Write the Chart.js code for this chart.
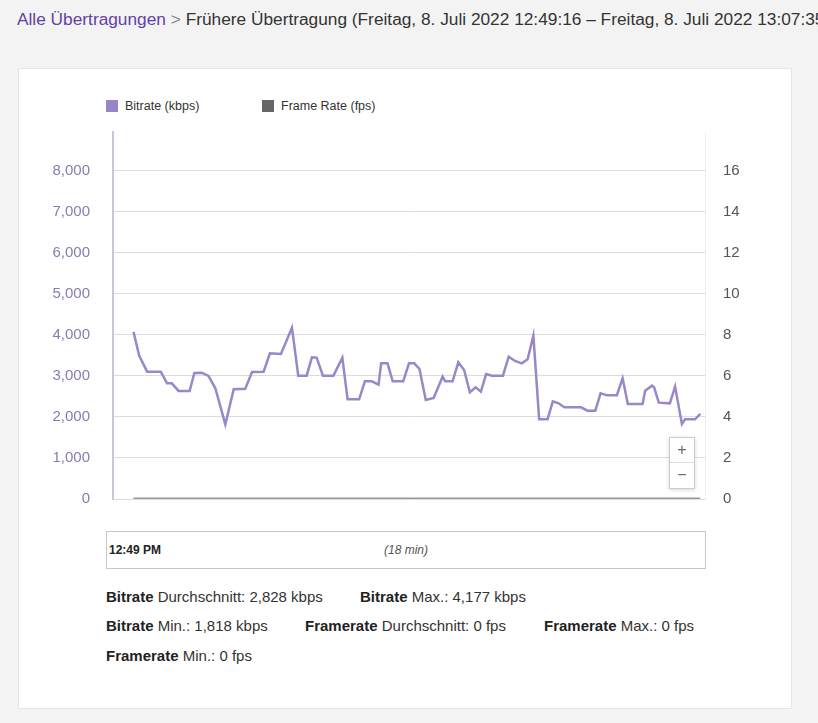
<!DOCTYPE html>
<html>
<head>
<meta charset="utf-8">
<script src="https://cdn.jsdelivr.net/npm/chart.js@4"></script>
<style>
  body { margin: 0; background: #f3f3f3; font-family: "Liberation Sans", Arial, sans-serif; width: 818px; height: 723px; overflow: hidden; position: relative; }
  .crumbs { position: absolute; left: 17px; top: 8px; width: 801px; white-space: nowrap; overflow: hidden; font-size: 17.3px; line-height: 22px; color: #333; }
  .crumbs a { color: #6441a5; text-decoration: none; }
  .crumbs .sep { color: #888; }
  .panel { position: absolute; left: 18px; top: 68px; width: 772px; height: 639px; background: #fff; border: 1px solid #e6e6e6; }
  .legend { position: absolute; top: 99px; font-size: 12.5px; color: #333; line-height: 14px; }
  .legend i { display: inline-block; width: 12px; height: 12px; vertical-align: -2px; margin-right: 7px; }
  #chartWrap { position: absolute; left: 40px; top: 123px; width: 720px; height: 385px; }
  .zoomctl { position: absolute; left: 669px; top: 437px; width: 24px; height: 50px; background: #fff; border: 1px solid #ccc; box-shadow: 0 1px 4px rgba(0,0,0,0.15); color: #666; font-size: 16px; text-align: center; }
  .zoomctl div { height: 24px; line-height: 24px; }
  .zoomctl div + div { border-top: 1px solid #ddd; }
  .range { position: absolute; left: 106px; top: 531px; width: 598px; height: 36px; border: 1px solid #c8c8c8; font-size: 12px; }
  .range b { position: absolute; left: 2px; top: 11px; color: #222; }
  .range em { position: absolute; left: 277px; top: 11px; color: #555; }
  .stat { position: absolute; font-size: 15px; color: #333; white-space: nowrap; line-height: 17px; }
  .stat b { color: #222; }
</style>
</head>
<body>
<div class="crumbs"><a>Alle Übertragungen</a> <span class="sep">&gt;</span> Frühere Übertragung (Freitag, 8. Juli 2022 12:49:16 – Freitag, 8. Juli 2022 13:07:35)</div>
<div class="panel"></div>
<div class="legend" style="left:106px"><i style="background:#9a85c8"></i>Bitrate (kbps)</div>
<div class="legend" style="left:262px"><i style="background:#666"></i>Frame Rate (fps)</div>
<div id="chartWrap"><canvas id="streamChart"></canvas></div>
<div class="zoomctl"><div>+</div><div>−</div></div>
<div class="range"><b>12:49 PM</b><em>(18 min)</em></div>
<div class="stat" style="left:106px;top:588px"><b>Bitrate</b> Durchschnitt: 2,828 kbps</div>
<div class="stat" style="left:360px;top:588px"><b>Bitrate</b> Max.: 4,177 kbps</div>
<div class="stat" style="left:106px;top:617px"><b>Bitrate</b> Min.: 1,818 kbps</div>
<div class="stat" style="left:305px;top:617px"><b>Framerate</b> Durchschnitt: 0 fps</div>
<div class="stat" style="left:544px;top:617px"><b>Framerate</b> Max.: 0 fps</div>
<div class="stat" style="left:106px;top:647px"><b>Framerate</b> Min.: 0 fps</div>

<script>
  // seconds since 12:49:16
  const sampleTimes = [0, 11, 26, 52, 64, 73, 86, 107, 116, 130, 143, 156, 175, 191, 213, 226, 248, 260, 281, 302,
    314, 330, 340, 349, 361, 381, 398, 408, 430, 441, 454, 467, 472, 484, 494, 514, 525, 535, 545, 557,
    572, 589, 594, 608, 619, 630, 641, 652, 662, 672, 683, 704, 715, 727, 740, 751, 762, 773, 789, 799,
    810, 821, 853, 865, 880, 890, 903, 921, 932, 942, 970, 975, 988, 992, 1001, 1022, 1032, 1045, 1051, 1070, 1080];
  const bitrateKbps = [4080, 3490, 3105, 3105, 2820, 2820, 2635, 2635, 3075, 3080, 3000, 2700, 1818, 2675, 2690, 3100, 3105, 3555, 3535, 4177,
    3008, 3008, 3455, 3447, 3008, 3008, 3447, 2431, 2431, 2870, 2870, 2790, 3309, 3309, 2870, 2870, 3309, 3309, 3171, 2415,
    2463, 2983, 2870, 2870, 3333, 3146, 2602, 2724, 2617, 3049, 3008, 3008, 3471, 3366, 3309, 3407, 3983, 1943, 1943, 2382,
    2333, 2236, 2236, 2154, 2154, 2577, 2528, 2528, 2943, 2317, 2317, 2642, 2764, 2724, 2349, 2333, 2740, 1830, 1943, 1943, 2073];
  const fpsTimes = [0, 1080];
  const fpsValues = [0, 0];
  const bitrateTicks = [0, 1000, 2000, 3000, 4000, 5000, 6000, 7000, 8000];
  const fpsTicks = [0, 2, 4, 6, 8, 10, 12, 14, 16];

  const tickFont = { family: 'Liberation Sans, Arial', size: 15 };

  const ctx = document.getElementById('streamChart').getContext('2d');
  const chart = new Chart(ctx, {
    type: 'line',
    data: {
      datasets: [{
        label: 'Frame Rate (fps)',
        data: fpsTimes.map((t, i) => ({ x: t, y: fpsValues[i] })),
        yAxisID: 'y1',
        borderColor: '#999',
        borderWidth: 3,
        pointRadius: 0,
        order: 0
      }, {
        label: 'Bitrate (kbps)',
        data: sampleTimes.map((t, i) => ({ x: t, y: bitrateKbps[i] })),
        yAxisID: 'y',
        borderColor: '#9a87c8',
        borderWidth: 2.5,
        pointRadius: 0,
        tension: 0,
        order: 1
      }]
    },
    options: {
      locale: 'en-US',
      responsive: true,
      maintainAspectRatio: false,
      animation: false,
      layout: { padding: 0 },
      plugins: { legend: { display: false }, tooltip: { enabled: false } },
      scales: {
        x: { type: 'linear', min: -39, max: 1089, display: false },
        y: {
          position: 'left',
          min: 0,
          max: 8950,
          afterBuildTicks: s => { s.ticks = bitrateTicks.map(v => ({ value: v })); },
          ticks: { padding: 0, color: '#8a7bb0', font: tickFont },
          grid: { color: '#dcdcdc', tickLength: 23, tickColor: 'transparent' },
          border: { color: '#cbc3e0', width: 2 },
          afterFit: s => { s.width = 73; }
        },
        y1: {
          position: 'right',
          min: 0,
          max: 17.9,
          afterBuildTicks: s => { s.ticks = fpsTicks.map(v => ({ value: v })); },
          ticks: { padding: 0, color: '#555', font: tickFont },
          grid: { drawOnChartArea: false, tickLength: 18, tickColor: 'transparent' },
          border: { color: '#eeeeee', width: 1 },
          afterFit: s => { s.width = 55; }
        }
      }
    }
  });
</script>
</body>
</html>
